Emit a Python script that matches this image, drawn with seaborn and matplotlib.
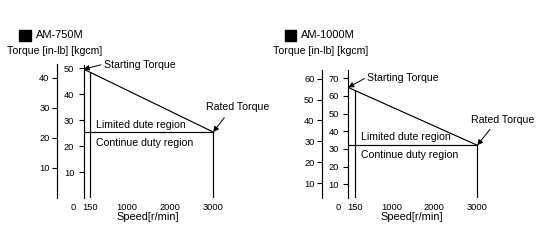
import numpy as np
import pandas as pd
import matplotlib
matplotlib.use("Agg")
import matplotlib.pyplot as plt
from matplotlib.patches import Rectangle
import seaborn as sns

# ---------------- data ----------------
models = ["AM-750M", "AM-1000M"]
starting_torque_kgcm = [49.6, 64.8]
rated_torque_kgcm = [25.4, 32.1]
min_speed = 150
rated_speed = 3000
speed_ticks = [150, 1000, 2000, 3000]
kgcm_ticks = [[10, 20, 30, 40, 50], [10, 20, 30, 40, 50, 60, 70]]
inlb_ticks = [[10, 20, 30, 40], [10, 20, 30, 40, 50, 60]]
kgcm_limits = [(0, 51.4), (2.1, 74.7)]
inlb_limits = [(0, 44.4), (2.7, 64.2)]

# ---------------- layout (pixels) ----------------
W, H = 546, 244
# left, top, x-pixel of 3000 rpm, bottom of inner (kgcm) axes in pixels
axes_px = [(83.7, 64.5, 213.2, 198.0), (348.3, 70.0, 477.3, 198.3)]
outer_offset_px = [26.4, 26.0]
XMAX = 3060

sns.set_theme(style="white")
plt.rcParams["font.family"] = ["Liberation Sans", "DejaVu Sans"]

fig = plt.figure(figsize=(W / 100, H / 100), dpi=100)
fig.patch.set_facecolor("white")


def fx(px):
    return px / W


def fy(py):
    return 1 - py / H


LW = 0.85
TICK_FS = 6.7
TEXT_FS = 7.6


def seg(ax, xs, ys):
    df = pd.DataFrame({"speed": xs, "torque": ys})
    sns.lineplot(data=df, x="speed", y="torque", ax=ax, color="black", lw=LW,
                 sort=False, estimator=None, errorbar=None)


for i, name in enumerate(models):
    l, t, r3000, b = axes_px[i]
    r = l + (r3000 - l) * XMAX / rated_speed
    ax = fig.add_axes([fx(l), fy(b), (r - l) / W, (b - t) / H])
    s0 = starting_torque_kgcm[i]
    tr = rated_torque_kgcm[i]

    # torque curve: starting torque -> rated torque
    seg(ax, [0, rated_speed], [s0, tr])
    # rated torque level (continuous duty boundary)
    seg(ax, [0, rated_speed], [tr, tr])
    # vertical at rated speed
    seg(ax, [rated_speed, rated_speed], [tr, 0])
    # vertical at min speed, from curve down
    t150 = np.interp(min_speed, [0, rated_speed], [s0, tr])
    seg(ax, [min_speed, min_speed], [t150, 0])

    ax.set_xlim(0, XMAX)
    ax.set_ylim(*kgcm_limits[i])
    ax.set_xlabel("")
    ax.set_ylabel("")
    ax.set_xticks(speed_ticks)
    ax.set_xticklabels([str(v) for v in speed_ticks])
    ax.set_yticks(kgcm_ticks[i])
    ax.tick_params(axis="y", left=True, length=3.8, width=0.8, pad=3.0,
                   labelsize=TICK_FS, colors="black", direction="out")
    ax.tick_params(axis="x", bottom=False, length=0, pad=3.5, labelsize=TICK_FS,
                   colors="black")
    for sp in ["top", "right", "bottom"]:
        ax.spines[sp].set_visible(False)
    ax.spines["left"].set_color("black")
    ax.spines["left"].set_linewidth(LW)
    ax.set_facecolor("none")
    # "0" label left of the speed origin
    ax.text(-245, -0.035, "0", transform=ax.get_xaxis_transform(), ha="center",
            va="top", fontsize=TICK_FS, color="black")

    # outer in-lb axis
    ax2 = ax.twinx()
    ax2.set_ylim(*inlb_limits[i])
    ax2.set_yticks(inlb_ticks[i])
    ax2.yaxis.set_ticks_position("left")
    ax2.yaxis.set_label_position("left")
    for sp in ["top", "right", "bottom"]:
        ax2.spines[sp].set_visible(False)
    ax2.spines["left"].set_visible(True)
    ax2.spines["left"].set_position(("outward", outer_offset_px[i] * 72 / 100))
    ax2.spines["left"].set_color("black")
    ax2.spines["left"].set_linewidth(LW)
    ax2.tick_params(axis="y", left=True, right=False, labelleft=True, labelright=False,
                    length=3.8, width=0.8, pad=1.8, labelsize=TICK_FS, colors="black")
    ax2.grid(False)
    ax.grid(False)

    # title with black square
    sq_x = [19, 284.7][i]
    fig.add_artist(Rectangle((fx(sq_x), fy(41)), 11.5 / W, 10.8 / H,
                             transform=fig.transFigure, color="black"))
    fig.text(fx([36, 300.5][i]), fy(34.5), name, fontsize=TEXT_FS + 0.3,
             ha="left", va="center", color="black")
    fig.text(fx([7, 273][i]), fy(50.5), "Torque [in-lb] [kgcm]", fontsize=TEXT_FS,
             ha="left", va="center", color="black")
    # x axis label
    fig.text(fx([147.8, 412.0][i]), fy(217), "Speed[r/min]", fontsize=TEXT_FS + 0.3,
             ha="center", va="center", color="black")
    # region labels
    fig.text(fx([96, 361.3][i]), fy([125.3, 137.0][i]), "Limited dute region",
             fontsize=TEXT_FS, ha="left", va="center", color="black")
    fig.text(fx([96, 361.3][i]), fy([143.0, 155.3][i]), "Continue duty region",
             fontsize=TEXT_FS, ha="left", va="center", color="black")

    # Starting torque annotation
    st_text = [(104, 64.5), (367.3, 78.3)][i]
    st_tail = [(101, 64.8), (364.5, 78.5)][i]
    fig.text(fx(st_text[0]), fy(st_text[1]), "Starting Torque", fontsize=TEXT_FS,
             ha="left", va="center", color="black")
    ax.annotate("", xy=(0, s0), xycoords="data",
                xytext=(st_tail[0], H - st_tail[1]), textcoords="figure pixels",
                arrowprops=dict(arrowstyle="-|>", color="black", lw=0.7,
                                mutation_scale=8, shrinkA=0, shrinkB=0),
                annotation_clip=False)
    # Rated torque annotation
    rt_text = [(205.7, 107.3), (470.7, 120.0)][i]
    rt_tail = [(224.3, 117.7), (490.0, 129.3)][i]
    fig.text(fx(rt_text[0]), fy(rt_text[1]), "Rated Torque", fontsize=TEXT_FS,
             ha="left", va="center", color="black")
    ax.annotate("", xy=(rated_speed, tr), xycoords="data",
                xytext=(rt_tail[0], H - rt_tail[1]), textcoords="figure pixels",
                arrowprops=dict(arrowstyle="-|>", color="black", lw=0.7,
                                mutation_scale=8, shrinkA=0, shrinkB=0),
                annotation_clip=False)

fig.savefig("out.png", dpi=100, facecolor="white")
